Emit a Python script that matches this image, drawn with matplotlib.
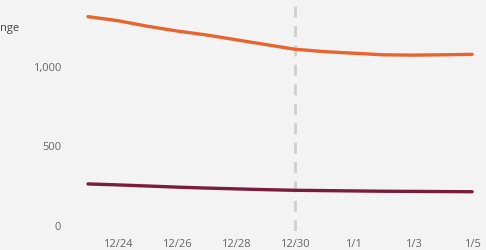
import numpy as np
import matplotlib.pyplot as plt

# daily values, 12/23 .. 1/5
dates = np.arange(np.datetime64('2023-12-23'), np.datetime64('2024-01-06'))
orange_vals = [1310, 1285, 1250, 1220, 1195, 1165, 1135, 1105, 1090, 1080, 1070, 1068, 1070, 1073]
maroon_vals = [258, 252, 245, 238, 232, 227, 222, 218, 216, 214, 212, 211, 210, 209]
marker_date = np.datetime64('2023-12-30')

xticks = dates[1::2]
xlabels = ['12/24', '12/26', '12/28', '12/30', '1/1', '1/3', '1/5']
yticks = [0, 500, 1000]
ylabels = ['0', '500', '1,000']

W, H = 486, 251
bg = '#f3f3f3'
fig = plt.figure(figsize=(W / 100, H / 100), dpi=100, facecolor=bg)
ax = fig.add_axes([75 / W, 1 - 232 / H, (W - 75) / W, 232 / H], facecolor=bg)

x = (dates - dates[0]).astype(float)
ax.plot(x, orange_vals, color='#e8642c', lw=2.4, solid_capstyle='round', zorder=3)
ax.plot(x, maroon_vals, color='#7a1b3c', lw=2.4, solid_capstyle='round', zorder=3)
ax.axvline(float((marker_date - dates[0]).astype(float)), color='#cfcfcf', lw=2,
           dashes=(4, 3), zorder=2)

ax.set_xlim(-0.44, 13.47)
ax.set_ylim(-38, 1421)
ax.set_xticks((xticks - dates[0]).astype(float))
ax.set_xticklabels(xlabels)
ax.set_yticks(yticks)
ax.set_yticklabels(ylabels)
ax.grid(axis='y', color='#f7f7f7', lw=1, zorder=1)
ax.tick_params(length=0, labelsize=8, labelcolor='#666666')
ax.tick_params(axis='y', pad=10)
ax.tick_params(axis='x', pad=5)
for s in ax.spines.values():
    s.set_visible(False)
for t in ax.get_xticklabels() + ax.get_yticklabels():
    t.set_fontfamily('Open Sans')

fig.text(0, 1 - 28 / H, 'nge', fontsize=8, color='#444444', family='Open Sans',
         ha='left', va='center')

fig.savefig('out.png', dpi=100, facecolor=bg)
